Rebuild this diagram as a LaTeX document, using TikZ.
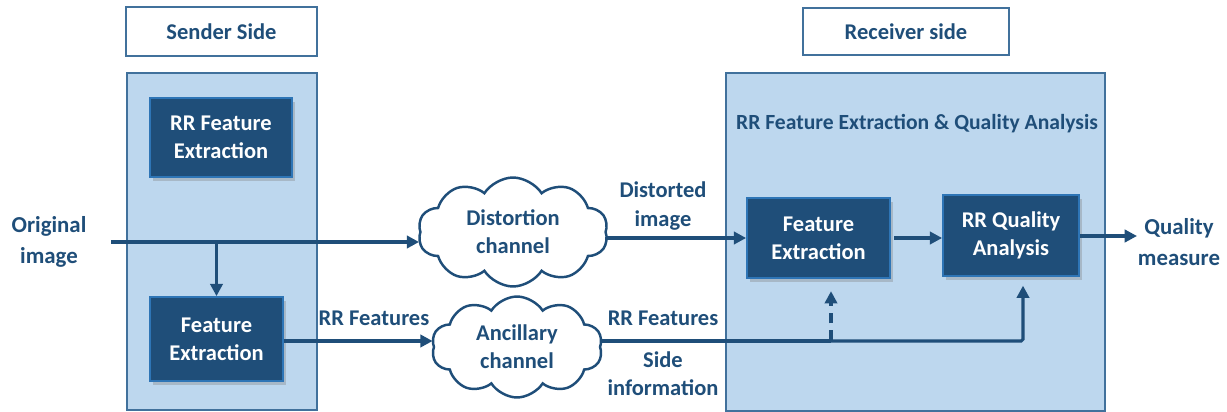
\documentclass[tikz,border=0pt]{standalone}
\usepackage{fontspec}
\setmainfont{Carlito}
\usetikzlibrary{arrows.meta,shapes.symbols,shadows}
\definecolor{navy}{HTML}{1F4E79}
\definecolor{edge}{HTML}{41719C}
\definecolor{panelfill}{HTML}{BDD7EE}
\definecolor{boxedge}{HTML}{2E75B6}
\begin{document}
\begin{tikzpicture}[x=0.02cm,y=-0.02cm,
  every node/.style={font=\bfseries\fontsize{12.8}{16}\selectfont,text=navy,align=center,inner sep=0pt},
  sidelabel/.style={draw=edge,fill=white,line width=1.4pt},
  panel/.style={draw=edge,fill=panelfill,line width=1.4pt},
  block/.style={draw=boxedge,fill=navy,line width=1pt,text=white,
    drop shadow={opacity=0.35,shadow xshift=0.6mm,shadow yshift=-0.8mm}},
  channel/.style={cloud,cloud puffs=10,cloud puff arc=115,cloud ignores aspect,
    draw=navy,fill=white,line width=1.4pt},
  arr/.style={draw=navy,line width=1.8pt,-{Triangle[length=7pt,width=7pt]}},
  wire/.style={draw=navy,line width=1.8pt}]
\useasboundingbox (0,0) rectangle (1227,412);
% sender side
\node[sidelabel,minimum width=3.82cm,minimum height=0.98cm] (sendlbl) at (221.5,31.5) {Sender Side};
\node[panel,minimum width=3.8cm,minimum height=6.74cm] (sendpanel) at (222,241.5) {};
\node[block,minimum width=2.84cm,minimum height=1.58cm] (rrfe) at (221,137.5) {RR Feature\\Extraction};
\node[block,minimum width=2.66cm,minimum height=1.68cm] (fes) at (216.5,339) {Feature\\Extraction};
% receiver side
\node[sidelabel,minimum width=4.12cm,minimum height=0.94cm] (recvlbl) at (906,31.5) {Receiver side};
\node[panel,minimum width=7.58cm,minimum height=6.76cm] (recvpanel) at (915.5,242) {};
\node[font=\bfseries\fontsize{12.3}{16}\selectfont] (title) at (917,124) {RR Feature Extraction \& Quality Analysis};
\node[block,minimum width=2.86cm,minimum height=1.6cm] (fer) at (818.5,238) {Feature\\Extraction};
\node[block,minimum width=2.72cm,minimum height=1.62cm] (rrqa) at (1011,235.5) {RR Quality\\Analysis};
% channels
\node[channel,minimum width=3.8cm,minimum height=2.18cm] (dist) at (513,232) {Distortion\\channel};
\node[channel,minimum width=3.42cm,minimum height=2.02cm] (anc) at (517,347) {Ancillary\\channel};
% free labels
\node[font=\bfseries\fontsize{13}{18}\selectfont] (origtxt) at (49,242) {Original\\image};
\node[font=\bfseries\fontsize{13}{18}\selectfont] (qmtxt) at (1179,242) {Quality\\measure};
\node (rrf1) at (374,318) {RR Features};
\node (distimg) at (663,206) {Distorted\\image};
\node (rrf2) at (663,318) {RR Features};
\node (sideinfo) at (663,374) {Side\\information};
% connectors
\coordinate (orig) at (111,242);
\coordinate (qm) at (1137,236);
\coordinate (j1) at (831,341);
\coordinate (j2) at (1023,341);
\draw[arr] (orig) -- (dist.west |- orig);
\draw[arr] (fes.north |- orig) -- (fes.north);
\draw[arr] (fes.east |- j1) -- (anc.west |- j1);
\draw[arr] (dist.east |- fer.west) -- (fer.west);
\draw[arr,shorten <=2pt] (fer.east) -- (rrqa.west |- fer.east);
\draw[arr] (rrqa.east |- qm) -- (qm);
\draw[wire] (anc.east |- j1) -- (j1);
\draw[arr,rounded corners=1pt,shorten >=5pt] (j1) -- (j2) -- (rrqa.south -| j2);
\draw[arr,dashed,dash pattern=on 6pt off 4pt,shorten >=7pt] (j1) -- (fer.south -| j1);
\end{tikzpicture}
\end{document}
